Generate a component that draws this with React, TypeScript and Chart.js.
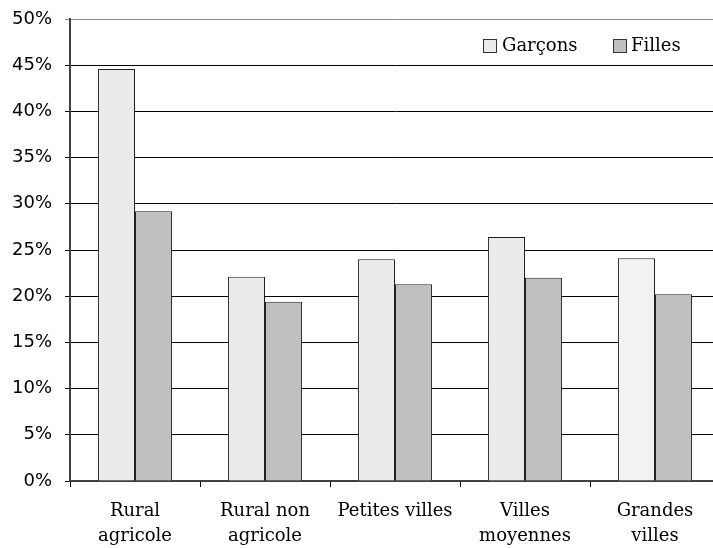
import React, { useEffect, useRef } from "react";
import { Chart, registerables } from "chart.js";

Chart.register(...registerables);

const categories: string[][] = [
  ["Rural", "agricole"],
  ["Rural non", "agricole"],
  ["Petites villes"],
  ["Villes", "moyennes"],
  ["Grandes", "villes"],
];
const garcons = [44.6, 22.1, 24.0, 26.4, 24.1];
const filles = [29.2, 19.4, 21.3, 22.0, 20.2];
const seriesLabels = ["Garçons", "Filles"];
const yTicks = [0, 5, 10, 15, 20, 25, 30, 35, 40, 45, 50];

const W = 720;
const H = 548;

const legendPlugin = {
  id: "boxLegend",
  afterDraw(chart: any) {
    const ctx = chart.ctx;
    const items = [
      { x: 483, tx: 502, ds: chart.data.datasets[0] },
      { x: 613, tx: 631, ds: chart.data.datasets[1] },
    ];
    ctx.save();
    ctx.font = "18px 'DejaVu Serif'";
    ctx.textBaseline = "middle";
    ctx.textAlign = "left";
    for (const it of items) {
      const fill = Array.isArray(it.ds.backgroundColor) ? it.ds.backgroundColor[0] : it.ds.backgroundColor;
      ctx.fillStyle = fill;
      ctx.fillRect(it.x, 39, 14, 14);
      ctx.strokeStyle = "#333";
      ctx.lineWidth = 1;
      ctx.strokeRect(it.x + 0.5, 39.5, 13, 13);
      ctx.fillStyle = "#000";
      ctx.fillText(it.ds.label, it.tx, 46);
    }
    ctx.restore();
  },
};

export default function App() {
  const ref = useRef<HTMLCanvasElement>(null);
  useEffect(() => {
    document.body.style.margin = "0";
    const chart = new Chart(ref.current!, {
      type: "bar",
      data: {
        labels: categories,
        datasets: [
          {
            label: seriesLabels[0],
            data: garcons,
            backgroundColor: ["#ebebeb", "#ebebeb", "#ebebeb", "#ebebeb", "#f2f2f2"],
            borderColor: "#222",
            borderWidth: 1,
            categoryPercentage: 0.57,
            barPercentage: 1,
          },
          {
            label: seriesLabels[1],
            data: filles,
            backgroundColor: "#c0c0c0",
            borderColor: "#222",
            borderWidth: 1,
            categoryPercentage: 0.57,
            barPercentage: 1,
          },
        ],
      },
      options: {
        responsive: false,
        animation: false,
        devicePixelRatio: 1,
        layout: { padding: { left: 0, top: 19, right: 0, bottom: 0 } },
        plugins: { legend: { display: false }, tooltip: { enabled: false } },
        scales: {
          x: {
            offset: true,
            grid: {
              offset: true,
              drawOnChartArea: false,
              drawTicks: true,
              tickLength: 6,
              color: "#000",
              lineWidth: 1,
            },
            border: { display: true, color: "#404040", width: 2 },
            ticks: {
              color: "#000",
              font: { family: "'DejaVu Serif'", size: 18, lineHeight: 1.4 },
              padding: 12,
              maxRotation: 0,
              autoSkip: false,
            },
            afterFit(scale: any) {
              scale.height = H - 481;
              scale.paddingLeft = 0;
              scale.paddingRight = 0;
            },
          },
          y: {
            min: 0,
            max: 50,
            afterBuildTicks(scale: any) {
              scale.ticks = yTicks.map((v) => ({ value: v }));
            },
            grid: {
              color: (c: any) => (c.tick && c.tick.value === 50 ? "#888" : "#000"),
              lineWidth: 1,
              tickLength: 5,
            },
            border: { display: true, color: "#404040", width: 2 },
            ticks: {
              color: "#000",
              font: { family: "'DejaVu Sans'", size: 18 },
              padding: 13,
              callback: (v: any) => v + "%",
            },
            afterFit(scale: any) {
              scale.width = 70;
              scale.paddingTop = 0;
              scale.paddingBottom = 0;
            },
          },
        },
      },
      plugins: [legendPlugin],
    });
    return () => chart.destroy();
  }, []);
  return (
    <div style={{ position: "absolute", left: 0, top: 0, width: 713, height: 548, overflow: "hidden", background: "#fff" }}>
      <canvas ref={ref} width={W} height={H} style={{ width: W, height: H, display: "block" }} />
    </div>
  );
}
